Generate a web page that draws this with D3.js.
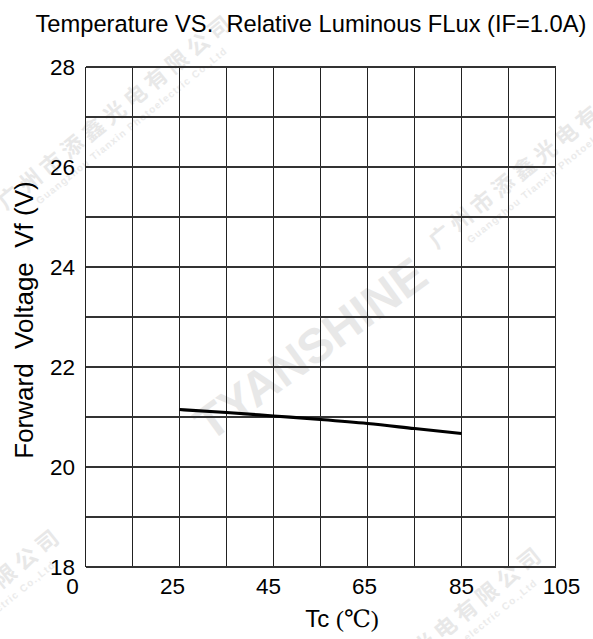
<!DOCTYPE html>
<html><head><meta charset="utf-8">
<script src="https://cdn.jsdelivr.net/npm/d3@7"></script>
<style>html,body{margin:0;padding:0;background:#fff;}svg{display:block;}</style>
</head><body>
<script>
// ---- data ----
const xTickLabels = [0, 25, 45, 65, 85, 105];
const yTickLabels = [18, 20, 22, 24, 26, 28];
const temperature = [25, 35, 45, 55, 65, 75, 85];
const voltage = [21.15, 21.09, 21.02, 20.95, 20.87, 20.77, 20.67];
const title = "Temperature VS.  Relative Luminous FLux (IF=1.0A)";
const yLabel = "Forward  Voltage  Vf (V)";
const xLabel = "Tc ";
const xUnit = "(℃)";
const wmCN = "广州市添鑫光电有限公司";
const wmEN = "Guangzhou Tianxin Photoelectric Co.,Ltd";
const wmBrand = "TYANSHINE";

const W = 593, H = 639;
const m = {left: 85.5, right: 555.5, top: 67, bottom: 567};
const svg = d3.select("body").append("svg").attr("width", W).attr("height", H);
const font = "Arial, 'Liberation Sans', Helvetica, sans-serif";

// x: the axis is drawn with evenly spaced category ticks (polylinear scale)
const xPos = d3.scaleLinear().domain([0, 10]).range([m.left, m.right]);
const x = d3.scaleLinear().domain(xTickLabels).range(xTickLabels.map((d, i) => xPos(i * 2)));
const y = d3.scaleLinear().domain([18, 28]).range([m.bottom, m.top]);

// ---- watermarks ----
const wm = svg.append("g");
function cnMark(px, py) {
  const g = wm.append("g").attr("transform", `translate(${px},${py}) rotate(-39)`);
  g.append("text").attr("x", 0).attr("y", 0)
    .attr("font-family", "'Noto Sans CJK SC', sans-serif").attr("font-weight", "bold")
    .attr("font-size", 22).attr("letter-spacing", 5).attr("fill", "#e8e8e8")
    .attr("dominant-baseline", "middle").text(wmCN);
  g.append("text").attr("x", 30).attr("y", 20)
    .attr("font-family", font).attr("font-weight", "bold")
    .attr("font-size", 10).attr("letter-spacing", 1.2).attr("fill", "#ebebeb")
    .attr("dominant-baseline", "middle").text(wmEN);
}
cnMark(2, 206);
cnMark(433, 245);
cnMark(-170, 720);
cnMark(312, 738);
wm.append("text").attr("transform", "translate(313,352) rotate(-36)")
  .attr("text-anchor", "middle").attr("dominant-baseline", "middle")
  .attr("font-family", font).attr("font-weight", "bold").attr("font-size", 48)
  .attr("fill", "#e8e8e8").text(wmBrand);

// ---- grid ----
const grid = svg.append("g");
grid.selectAll("line.v").data(d3.range(0, 11)).join("line")
  .attr("x1", d => xPos(d)).attr("x2", d => xPos(d))
  .attr("y1", m.top).attr("y2", m.bottom)
  .attr("stroke", "#222").attr("stroke-width", 1.1).attr("shape-rendering", "crispEdges");
grid.selectAll("line.h").data(d3.range(18, 29)).join("line")
  .attr("x1", m.left).attr("x2", m.right)
  .attr("y1", d => y(d)).attr("y2", d => y(d))
  .attr("stroke", "#333").attr("stroke-width", 1.1).attr("shape-rendering", "crispEdges");

// ---- tick labels ----
svg.append("g").selectAll("text").data(yTickLabels).join("text")
  .attr("x", 75).attr("y", d => y(d) + 8)
  .attr("text-anchor", "end").attr("font-family", font).attr("font-size", 22.5)
  .attr("fill", "#000").text(d => d);
const xDx = [-13, -7, -5, -3, 0, 6];
svg.append("g").selectAll("text").data(xTickLabels).join("text")
  .attr("x", (d, i) => x(d) + xDx[i]).attr("y", 594)
  .attr("text-anchor", "middle").attr("font-family", font).attr("font-size", 22.5)
  .attr("fill", "#000").text(d => d);

// ---- line ----
const pts = temperature.map((t, i) => [t, voltage[i]]);
svg.append("path").datum(pts)
  .attr("d", d3.line().x(d => x(d[0])).y(d => y(d[1])).curve(d3.curveMonotoneX))
  .attr("fill", "none").attr("stroke", "#000").attr("stroke-width", 3.2);

// ---- titles ----
svg.append("text").attr("x", 311).attr("y", 32).attr("text-anchor", "middle")
  .attr("font-family", font).attr("font-size", 23.7).attr("fill", "#000")
  .style("white-space", "pre").text(title);
svg.append("text").attr("transform", "translate(33,320) rotate(-90)")
  .attr("text-anchor", "middle").attr("font-family", font).attr("font-size", 26)
  .attr("fill", "#000").style("white-space", "pre").text(yLabel);
const xl = svg.append("text").attr("x", 342).attr("y", 627).attr("text-anchor", "middle")
  .attr("font-family", font).attr("font-size", 24).attr("fill", "#000").style("white-space", "pre");
xl.append("tspan").text(xLabel);
xl.append("tspan").attr("font-family", "'Liberation Serif', 'DejaVu Serif', serif").text(xUnit);
</script>
</body></html>
